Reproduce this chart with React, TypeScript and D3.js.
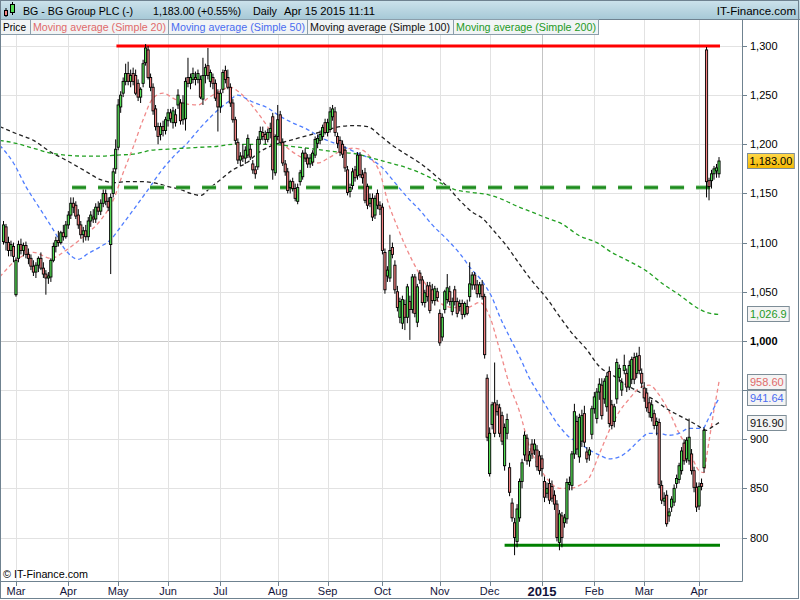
import React from "react";
import * as d3 from "d3";

// ---------- DATA ----------
const monthLabels = ["Mar", "Apr", "May", "Jun", "Jul", "Aug", "Sep", "Oct", "Nov", "Dec", "2015", "Feb", "Mar", "Apr"];
const monthStartIndex = [5, 26, 46, 66, 87, 110, 130, 152, 175, 195, 216, 237, 257, 279];
const priceTicks = [800, 850, 900, 950, 1000, 1050, 1100, 1150, 1200, 1250, 1300];
// the 950 label is hidden behind the moving-average value boxes in the reference
const hiddenTickLabels = [950];

// daily candles [open, high, low, close], Feb 24 2014 .. Apr 15 2015
const candles: [number, number, number, number][] = [
  [1101, 1122, 1098, 1118], [1116, 1119, 1092, 1100], [1100, 1106, 1086, 1092], [1092, 1102, 1086, 1098], [1096, 1100, 1080, 1086],
  [1047, 1085, 1045, 1082], [1084, 1102, 1080, 1098], [1098, 1104, 1088, 1092], [1092, 1100, 1086, 1097], [1097, 1101, 1084, 1088],
  [1088, 1094, 1078, 1084], [1084, 1088, 1072, 1076], [1076, 1082, 1066, 1070], [1070, 1080, 1064, 1077], [1077, 1086, 1070, 1084],
  [1084, 1090, 1072, 1074], [1074, 1080, 1064, 1068], [1068, 1072, 1047, 1064], [1064, 1070, 1058, 1066], [1065, 1084, 1060, 1082],
  [1082, 1100, 1080, 1096], [1096, 1106, 1090, 1102], [1102, 1112, 1096, 1100], [1100, 1112, 1098, 1110], [1110, 1118, 1102, 1106],
  [1106, 1122, 1104, 1118], [1118, 1132, 1114, 1128], [1128, 1146, 1124, 1140], [1140, 1146, 1130, 1136], [1138, 1142, 1124, 1127],
  [1128, 1134, 1114, 1118], [1118, 1122, 1104, 1108], [1108, 1116, 1100, 1112], [1112, 1118, 1102, 1106], [1106, 1126, 1102, 1122],
  [1122, 1132, 1116, 1128], [1126, 1134, 1120, 1124], [1124, 1140, 1120, 1136], [1136, 1142, 1128, 1132], [1132, 1144, 1128, 1140],
  [1140, 1154, 1136, 1150], [1150, 1154, 1138, 1142], [1142, 1146, 1132, 1136], [1098, 1150, 1068, 1146], [1150, 1176, 1146, 1172],
  [1175, 1205, 1170, 1195], [1197, 1246, 1194, 1240], [1238, 1254, 1232, 1250], [1252, 1268, 1248, 1264], [1264, 1282, 1260, 1272],
  [1272, 1284, 1260, 1264], [1264, 1276, 1258, 1270], [1272, 1278, 1260, 1264], [1270, 1276, 1250, 1252], [1262, 1266, 1244, 1248],
  [1248, 1258, 1242, 1256], [1262, 1286, 1258, 1282], [1283, 1302, 1280, 1298], [1296, 1300, 1266, 1268], [1268, 1272, 1254, 1258],
  [1258, 1262, 1230, 1234], [1236, 1240, 1214, 1218], [1218, 1222, 1200, 1208], [1210, 1222, 1204, 1218], [1218, 1224, 1208, 1214],
  [1214, 1228, 1210, 1225], [1224, 1236, 1218, 1232], [1232, 1236, 1222, 1226], [1222, 1238, 1216, 1234], [1230, 1236, 1218, 1222],
  [1240, 1256, 1236, 1250], [1242, 1246, 1220, 1224], [1225, 1250, 1220, 1242], [1226, 1268, 1214, 1264], [1268, 1288, 1258, 1262],
  [1262, 1272, 1256, 1268], [1266, 1278, 1262, 1272], [1268, 1274, 1260, 1266], [1266, 1276, 1262, 1272], [1266, 1270, 1246, 1248],
  [1246, 1288, 1240, 1270], [1270, 1282, 1262, 1278], [1280, 1298, 1266, 1270], [1264, 1276, 1258, 1273], [1268, 1272, 1256, 1262],
  [1262, 1266, 1244, 1247], [1252, 1256, 1213, 1238], [1238, 1256, 1232, 1252], [1256, 1276, 1252, 1273], [1275, 1280, 1262, 1266],
  [1268, 1276, 1256, 1258], [1258, 1262, 1238, 1242], [1242, 1246, 1222, 1225], [1225, 1228, 1200, 1204], [1202, 1206, 1180, 1184],
  [1184, 1192, 1178, 1188], [1188, 1200, 1182, 1186], [1186, 1198, 1180, 1194], [1189, 1210, 1186, 1206], [1195, 1200, 1184, 1187],
  [1180, 1184, 1170, 1174], [1174, 1178, 1165, 1170], [1177, 1208, 1174, 1205], [1205, 1218, 1200, 1213], [1212, 1218, 1204, 1208],
  [1210, 1214, 1200, 1205], [1205, 1216, 1202, 1212], [1212, 1222, 1206, 1216], [1228, 1232, 1164, 1174], [1171, 1210, 1168, 1208],
  [1208, 1240, 1204, 1225], [1230, 1234, 1200, 1202], [1202, 1206, 1178, 1181], [1180, 1184, 1168, 1172], [1172, 1176, 1150, 1153],
  [1156, 1164, 1150, 1162], [1162, 1166, 1152, 1155], [1155, 1160, 1142, 1145], [1142, 1160, 1139, 1156], [1162, 1174, 1158, 1171],
  [1167, 1194, 1164, 1191], [1191, 1196, 1182, 1186], [1186, 1190, 1176, 1180], [1180, 1190, 1176, 1186], [1182, 1194, 1178, 1191],
  [1189, 1208, 1186, 1205], [1201, 1210, 1196, 1206], [1204, 1214, 1200, 1210], [1208, 1220, 1204, 1217], [1222, 1226, 1210, 1212],
  [1212, 1226, 1208, 1222], [1215, 1238, 1212, 1233], [1228, 1240, 1224, 1236], [1233, 1238, 1208, 1212], [1208, 1212, 1196, 1201],
  [1204, 1208, 1188, 1192], [1200, 1204, 1186, 1190], [1194, 1198, 1172, 1176], [1174, 1178, 1148, 1151], [1152, 1160, 1146, 1156],
  [1158, 1176, 1154, 1172], [1174, 1178, 1162, 1166], [1168, 1192, 1164, 1189], [1189, 1192, 1166, 1169], [1169, 1174, 1160, 1166],
  [1171, 1176, 1140, 1143], [1157, 1160, 1134, 1138], [1140, 1150, 1136, 1145], [1145, 1150, 1122, 1126], [1128, 1148, 1124, 1145],
  [1150, 1154, 1134, 1138], [1138, 1142, 1128, 1134], [1136, 1140, 1088, 1092], [1090, 1094, 1048, 1052], [1066, 1076, 1060, 1072],
  [1064, 1108, 1060, 1092], [1095, 1100, 1084, 1088], [1077, 1082, 1048, 1052], [1050, 1056, 1030, 1034], [1024, 1044, 1018, 1040],
  [1018, 1046, 1012, 1042], [1037, 1042, 1011, 1024], [1024, 1058, 1018, 1055], [1040, 1046, 1001, 1032], [1032, 1068, 1028, 1065],
  [1065, 1068, 1024, 1028], [1019, 1058, 1014, 1055], [1069, 1072, 1058, 1062], [1062, 1066, 1036, 1039], [1039, 1052, 1034, 1049],
  [1056, 1060, 1040, 1045], [1056, 1060, 1028, 1031], [1052, 1058, 1038, 1041], [1041, 1056, 1036, 1053], [1050, 1054, 1040, 1044],
  [1028, 1032, 995, 998], [1004, 1028, 1000, 1024], [1032, 1052, 1028, 1050], [1042, 1068, 1038, 1054], [1050, 1056, 1036, 1040],
  [1030, 1044, 1026, 1040], [1052, 1056, 1036, 1040], [1040, 1044, 1024, 1028], [1035, 1042, 1030, 1038], [1038, 1042, 1022, 1027],
  [1027, 1040, 1024, 1038], [1035, 1042, 1026, 1028], [1045, 1080, 1040, 1058], [1057, 1070, 1052, 1067], [1067, 1070, 1052, 1057],
  [1057, 1062, 1044, 1048], [1048, 1060, 1044, 1057], [1057, 1062, 1042, 1045], [1045, 1048, 982, 986], [962, 966, 898, 902],
  [865, 912, 862, 906], [915, 938, 910, 935], [937, 978, 902, 906], [935, 940, 924, 928], [932, 936, 902, 906],
  [924, 928, 894, 898], [873, 916, 868, 912], [906, 926, 900, 920], [871, 876, 842, 846], [835, 840, 816, 820],
  [815, 820, 782, 800], [796, 834, 790, 829], [820, 860, 816, 857], [857, 880, 850, 876], [884, 908, 878, 904],
  [901, 905, 874, 878], [878, 888, 872, 884], [895, 900, 880, 885], [889, 900, 884, 895], [889, 894, 868, 872],
  [883, 888, 864, 868], [880, 884, 862, 870], [857, 862, 836, 841], [845, 856, 840, 850], [855, 860, 834, 838],
  [852, 858, 836, 840], [843, 848, 828, 834], [834, 838, 796, 800], [795, 828, 787, 824], [822, 826, 790, 800],
  [815, 824, 810, 820], [819, 860, 814, 856], [854, 862, 848, 856], [853, 888, 848, 885], [885, 936, 880, 928],
  [918, 924, 884, 890], [882, 926, 876, 922], [898, 930, 892, 924], [926, 934, 892, 897], [887, 892, 876, 880],
  [884, 892, 878, 889], [905, 934, 900, 931], [931, 948, 926, 943], [921, 952, 916, 948], [948, 962, 940, 956],
  [955, 962, 920, 924], [941, 962, 936, 959], [933, 968, 928, 964], [969, 974, 912, 916], [935, 940, 910, 914],
  [918, 936, 912, 933], [941, 982, 936, 978], [963, 976, 958, 972], [950, 962, 944, 958], [970, 986, 966, 975],
  [967, 972, 948, 953], [953, 980, 950, 975], [961, 984, 956, 981], [983, 988, 956, 961], [967, 988, 962, 984],
  [985, 994, 966, 970], [967, 972, 952, 957], [952, 958, 938, 942], [947, 952, 928, 932], [937, 942, 922, 927],
  [922, 940, 918, 935], [926, 930, 910, 914], [914, 922, 904, 918], [917, 921, 850, 854], [853, 858, 834, 838],
  [837, 846, 832, 840], [843, 848, 811, 814], [822, 830, 816, 826], [831, 842, 826, 839], [836, 854, 832, 850],
  [855, 864, 850, 860], [859, 876, 855, 873], [868, 892, 864, 888], [896, 900, 874, 878], [880, 902, 876, 899],
  [878, 921, 874, 902], [885, 890, 864, 868], [868, 872, 846, 851], [851, 856, 826, 831], [832, 856, 828, 852],
  [855, 860, 848, 852], [871, 912, 866, 909], [1296, 1299, 1146, 1162], [1163, 1166, 1143, 1157], [1163, 1174, 1155, 1170],
  [1170, 1178, 1164, 1175], [1173, 1180, 1166, 1176], [1170, 1187, 1166, 1183],
];

// moving averages, read as [day index, value]
const sma20: [number, number][] = [
  [-1.5, 1065], [5, 1082], [12, 1090], [19, 1084], [25, 1092], [32, 1106], [39, 1123], [44, 1143], [48, 1171], [52, 1197],
  [56, 1225], [60, 1247], [64, 1252], [68, 1247], [72, 1242], [78, 1240], [82, 1247], [86, 1253], [91, 1258], [95, 1252],
  [102, 1232], [108, 1211], [115, 1194], [122, 1184], [126, 1181], [131, 1187], [136, 1194], [140, 1196], [144, 1194], [148, 1184],
  [151, 1171], [154, 1143], [158, 1116], [162, 1092], [166, 1072], [170, 1055], [175, 1039], [180, 1034], [186, 1034], [191, 1039],
  [195, 1025], [199, 991], [203, 955], [207, 928], [211, 892], [215, 871], [219, 857], [223, 850], [227, 850], [231, 853],
  [235, 861], [239, 885], [243, 909], [247, 928], [251, 941], [255, 952], [259, 955], [263, 945], [267, 928], [271, 906],
  [275, 889], [279, 868], [281, 866], [282, 882], [283, 898], [284, 914], [285, 930], [286, 944], [287, 958.6],
];
const sma50: [number, number][] = [
  [-1.5, 1199], [4, 1181], [9, 1157], [15, 1133], [20, 1113], [25, 1092], [30, 1083], [34, 1089], [39, 1096], [43, 1103],
  [47, 1116], [52, 1133], [58, 1154], [63, 1172], [68, 1187], [74, 1202], [79, 1217], [84, 1230], [90, 1243], [94, 1250],
  [97, 1247], [100, 1243], [106, 1237], [110, 1230], [115, 1223], [122, 1215], [128, 1206], [135, 1199], [142, 1191], [148, 1184],
  [152, 1176], [156, 1164], [162, 1146], [167, 1133], [172, 1118], [178, 1103], [183, 1089], [188, 1072], [191, 1064], [193, 1057],
  [196, 1044], [199, 1025], [203, 1004], [207, 984], [211, 962], [215, 945], [219, 928], [223, 913], [227, 902], [231, 896],
  [235, 889], [239, 884], [243, 880], [247, 882], [251, 889], [255, 899], [259, 906], [263, 906], [267, 904], [271, 906],
  [275, 911], [279, 911], [281, 912], [282, 917], [283, 922], [284, 927], [285, 932], [286, 937], [287, 941.64],
];
const sma100: [number, number][] = [
  [-1.5, 1218], [5, 1211], [12, 1204], [19, 1192], [25, 1184], [32, 1174], [39, 1164], [44, 1161], [50, 1162], [55, 1162],
  [60, 1161], [66, 1157], [71, 1154], [75, 1150], [79, 1148], [83, 1156], [87, 1164], [92, 1174], [98, 1182], [102, 1191],
  [108, 1199], [115, 1204], [122, 1209], [128, 1213], [135, 1218], [140, 1219], [146, 1218], [151, 1209], [156, 1199], [162, 1189],
  [167, 1181], [172, 1171], [178, 1157], [183, 1143], [188, 1131], [192, 1125], [197, 1111], [202, 1096], [207, 1078], [212, 1061],
  [218, 1043], [223, 1025], [228, 1008], [234, 991], [239, 974], [245, 964], [250, 955], [255, 948], [261, 940], [266, 931],
  [271, 924], [277, 916], [281, 910], [282, 909], [284, 912], [287, 916.9],
];
const sma200: [number, number][] = [
  [-1.5, 1204], [5, 1201], [12, 1196], [19, 1191], [25, 1189], [32, 1188], [39, 1188], [45, 1189], [52, 1190], [56, 1192],
  [59, 1194], [66, 1195], [72, 1196], [79, 1197], [86, 1198], [92, 1200], [99, 1200], [108, 1200], [115, 1198], [122, 1196],
  [128, 1194], [135, 1192], [142, 1190], [148, 1186], [155, 1181], [162, 1176], [168, 1170], [175, 1161], [181, 1154], [188, 1151],
  [194, 1149], [200, 1144], [206, 1137], [212, 1131], [218, 1125], [224, 1119], [231, 1107], [238, 1100], [244, 1090], [251, 1081],
  [258, 1071], [265, 1057], [271, 1047], [278, 1034], [282, 1029], [287, 1026.9],
];

// drawn horizontal levels
const levelValues = [1300, 1156, 792];
const levelStartIndex = [45.3, 27.5, 201];
const levelEndIndex = 287.4;

// ---------- STYLE ----------
const FONT = "'Liberation Sans', Arial, Helvetica, sans-serif";
const UP = "#55e055";
const DOWN = "#f28080";
const FRAME = "#6f8290";
const GRID = "#e2e2e2";

const maStyles = [
  { data: sma20, color: "#f08a8a", text: "#e06a6a", name: "Moving average (Simple 20)" },
  { data: sma50, color: "#4f7dff", text: "#4a6cf0", name: "Moving average (Simple 50)" },
  { data: sma100, color: "#222222", text: "#111111", name: "Moving average (Simple 100)" },
  { data: sma200, color: "#22a022", text: "#1f9a1f", name: "Moving average (Simple 200)" },
];

function approxWidth(s: string) {
  let w = 0;
  for (const ch of s) w += ch === "," || ch === "." ? 3.06 : 6.12;
  return w;
}

export default function App() {
  const x = d3.scaleLinear().domain([0, candles.length - 1]).range([3.5, 719]);
  const y = d3.scaleLinear().domain([800, 1300]).range([537.5, 46]);
  const line = d3
    .line<[number, number]>()
    .x((d) => x(d[0]))
    .y((d) => y(d[1]))
    .curve(d3.curveMonotoneX);
  const fmtTick = d3.format(",.0f");
  const fmtMA = (v: number) => (v >= 1000 ? d3.format(",.1f")(v) : d3.format(".2f")(v));
  const lastClose = candles[candles.length - 1][3];

  const legend = [
    { label: "Price", color: "#000", x0: 0, x1: 30, tl: 23 },
    { label: maStyles[0].name, color: maStyles[0].text, x0: 30, x1: 168, tl: 133 },
    { label: maStyles[1].name, color: maStyles[1].text, x0: 168, x1: 307, tl: 134 },
    { label: maStyles[2].name, color: maStyles[2].text, x0: 307, x1: 453, tl: 140 },
    { label: maStyles[3].name, color: maStyles[3].text, x0: 453, x1: 598, tl: 140 },
  ];

  const maLabels = [...maStyles].reverse().map((m) => {
    const v = m.data[m.data.length - 1][1];
    return { v, text: fmtMA(v), color: m.text };
  });

  return (
    <svg
      width={800}
      height={600}
      style={{ position: "absolute", left: 0, top: 0, display: "block" }}
      fontFamily={FONT}
    >
      <defs>
        <linearGradient id="hdr" x1="0" y1="0" x2="0" y2="1">
          <stop offset="0" stopColor="#cde3ec" />
          <stop offset="1" stopColor="#a7c9d7" />
        </linearGradient>
        <linearGradient id="gold" x1="0" y1="0" x2="0" y2="1">
          <stop offset="0" stopColor="#ffd84a" />
          <stop offset="1" stopColor="#f5b800" />
        </linearGradient>
        <clipPath id="plot">
          <rect x={1} y={19} width={741} height={562} />
        </clipPath>
      </defs>
      <rect x={0} y={0} width={800} height={600} fill="#fff" />

      <g clipPath="url(#plot)">
        {/* grid */}
        {priceTicks.map((v) => (
          <line key={"h" + v} x1={1} x2={742} y1={Math.round(y(v)) + 0.5} y2={Math.round(y(v)) + 0.5}
            stroke={v === 1000 ? "#c9c9c9" : GRID} strokeWidth={1} />
        ))}
        {monthStartIndex.map((m, k) => (
          <line key={"v" + k} x1={Math.round(x(m)) + 0.5} x2={Math.round(x(m)) + 0.5} y1={19} y2={581}
            stroke={monthLabels[k] === "2015" ? "#c4c4c4" : GRID} strokeWidth={1} />
        ))}

        {/* moving averages */}
        {maStyles.map((m, k) => (
          <path key={"ma" + k} d={line(m.data) || ""} fill="none" stroke={m.color} strokeWidth={1.3}
            strokeDasharray="4,3" />
        ))}

        {/* levels */}
        <line x1={x(levelStartIndex[0])} x2={x(levelEndIndex)} y1={y(levelValues[0])} y2={y(levelValues[0])}
          stroke="#ff0000" strokeWidth={3} />
        <line x1={x(levelStartIndex[1])} x2={x(levelEndIndex)} y1={y(levelValues[1])} y2={y(levelValues[1])}
          stroke="#9bd09b" strokeWidth={4.5} strokeDasharray="14,12" />
        <line x1={x(levelStartIndex[1])} x2={x(levelEndIndex)} y1={y(levelValues[1])} y2={y(levelValues[1])}
          stroke="#1c8a1c" strokeWidth={2.6} strokeDasharray="14,12" />
        <line x1={x(levelStartIndex[2])} x2={x(levelEndIndex)} y1={y(levelValues[2])} y2={y(levelValues[2])}
          stroke="#008000" strokeWidth={3} />

        {/* candles */}
        {candles.map(([o, h, l, c], i) => {
          const cx = x(i);
          const top = y(Math.max(o, c));
          const bot = y(Math.min(o, c));
          return (
            <g key={"c" + i}>
              <line x1={cx} x2={cx} y1={y(h)} y2={y(l)} stroke="#000" strokeWidth={1} />
              <rect x={cx - 1.1} y={top} width={2.2} height={Math.max(1, bot - top)}
                fill={c >= o ? UP : DOWN} stroke="#000" strokeWidth={0.9} />
            </g>
          );
        })}
      </g>

      {/* copyright */}
      <text x={3} y={578} fontSize={11} fill="#000" textLength={85} lengthAdjust="spacingAndGlyphs">© IT-Finance.com</text>

      {/* right axis */}
      <line x1={742.5} x2={742.5} y1={19} y2={581.5} stroke={FRAME} strokeWidth={1} />
      {priceTicks.map((v) => (
        <g key={"t" + v}>
          <line x1={742} x2={747} y1={Math.round(y(v)) + 0.5} y2={Math.round(y(v)) + 0.5} stroke={FRAME} />
          {hiddenTickLabels.indexOf(v) < 0 && (
            <text x={750} y={y(v) + 4} fontSize={11} fill="#000" fontWeight={v === 1000 ? "bold" : "normal"}>
              {fmtTick(v)}
            </text>
          )}
        </g>
      ))}
      {maLabels.map((m, k) => {
        const w = approxWidth(m.text) + 5;
        return (
          <g key={"ml" + k}>
            <rect x={747.5} y={Math.round(y(m.v) - 8) + 0.5} width={w} height={15} fill="#f4f4f4" stroke="#7d8d97" />
            <text x={750} y={Math.round(y(m.v) - 8) + 12} fontSize={11} fill={m.color}>{m.text}</text>
          </g>
        );
      })}
      <g>
        <rect x={747.5} y={Math.round(y(lastClose) - 8) + 0.5} width={approxWidth(d3.format(",.2f")(lastClose)) + 4}
          height={15} fill="url(#gold)" stroke="#7d8d97" />
        <text x={749.5} y={Math.round(y(lastClose) - 8) + 12} fontSize={11} fill="#000">
          {d3.format(",.2f")(lastClose)}
        </text>
      </g>

      {/* bottom axis */}
      <line x1={0} x2={742.5} y1={581.5} y2={581.5} stroke={FRAME} strokeWidth={1} />
      {monthStartIndex.map((m, k) => (
        <g key={"mt" + k}>
          <line x1={Math.round(x(m)) + 0.5} x2={Math.round(x(m)) + 0.5} y1={581} y2={586} stroke={FRAME} />
          <text x={x(m)} y={monthLabels[k] === "2015" ? 596 : 595} textAnchor="middle"
            fontSize={monthLabels[k] === "2015" ? 13 : 11}
            fontWeight={monthLabels[k] === "2015" ? "bold" : "normal"} fill="#14143a">
            {monthLabels[k]}
          </text>
        </g>
      ))}

      {/* header */}
      <rect x={0} y={0} width={800} height={19} fill="url(#hdr)" />
      <line x1={0} x2={800} y1={19.5} y2={19.5} stroke={FRAME} />
      <g>
        <line x1={6} x2={6} y1={8} y2={17} stroke="#000" />
        <rect x={4.5} y={10.5} width={3} height={5} fill={DOWN} stroke="#000" />
        <line x1={12.5} x2={12.5} y1={2} y2={15} stroke="#000" />
        <rect x={10.5} y={4.5} width={4} height={8} fill={UP} stroke="#000" />
      </g>
      <text x={23} y={15} fontSize={11.5} fill="#000" textLength={110} lengthAdjust="spacingAndGlyphs">BG - BG Group PLC (-)</text>
      <text x={153} y={15} fontSize={11.5} fill="#000" textLength={88} lengthAdjust="spacingAndGlyphs">1,183.00 (+0.55%)</text>
      <text x={253} y={15} fontSize={11.5} fill="#000" textLength={24} lengthAdjust="spacingAndGlyphs">Daily</text>
      <text x={284} y={15} fontSize={11.5} fill="#000" textLength={91} lengthAdjust="spacingAndGlyphs">Apr 15 2015 11:11</text>
      <text x={796} y={15} fontSize={11.5} fill="#000" textAnchor="end">IT-Finance.com</text>

      {/* legend */}
      {legend.map((g, k) => (
        <g key={"lg" + k}>
          <rect x={g.x0 + 0.5} y={19.5} width={g.x1 - g.x0} height={15} fill="#f1f4f5" stroke="#8b9eab" />
          <text x={g.x0 + 3} y={31} fontSize={11} fill={g.color} textLength={g.tl} lengthAdjust="spacingAndGlyphs">
            {g.label}
          </text>
        </g>
      ))}

      {/* outer frame */}
      <rect x={0.5} y={0.5} width={798} height={598} fill="none" stroke={FRAME} />
    </svg>
  );
}
